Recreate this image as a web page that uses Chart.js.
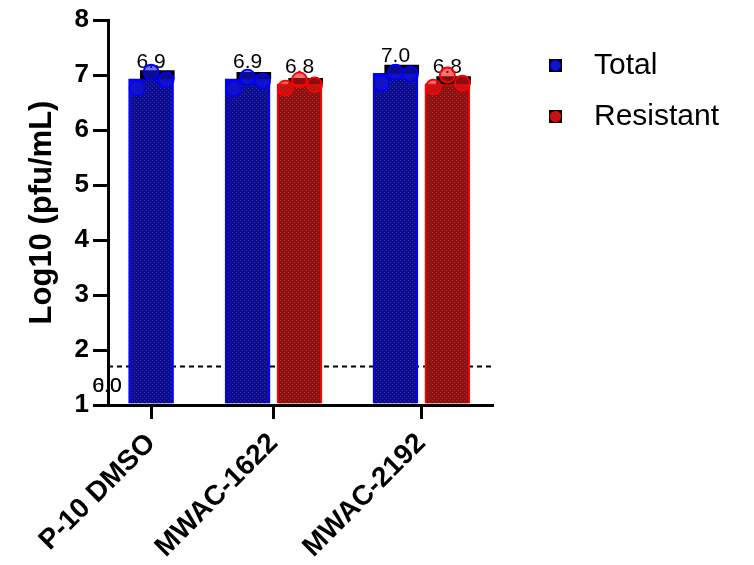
<!DOCTYPE html>
<html><head><meta charset="utf-8">
<script src="https://cdn.jsdelivr.net/npm/chart.js@4.4.1/dist/chart.umd.min.js"></script>
<style>html,body{margin:0;padding:0;background:#fff;}canvas{display:block}</style>
</head><body>
<canvas id="c" width="754" height="565"></canvas>
<script>
// ---- data ----
const categories = ['P-10 DMSO', 'MWAC-1622', 'MWAC-2192'];
const seriesNames = ['Total', 'Resistant'];
const totalMean = [6.93, 6.93, 7.03];
const resistantMean = [null, 6.84, 6.84];
const totalSD = [0.15, 0.12, 0.15];
const resistantSD = [null, 0.10, 0.13];
const totalReps = [[6.76, 7.05, 6.91], [6.75, 6.96, 6.89], [6.85, 7.05, 7.02]];
const resistantReps = [null, [6.76, 6.91, 6.82], [6.78, 7.00, 6.85]];
const detectionLimit = 1.7;
const yTickValues = [1, 2, 3, 4, 5, 6, 7, 8];
const strayLabels = ['6.0', '0.0'];

// ---- layout (axis units) ----
const groupCenter = [0.83, 3.19, 6.04];
const jitter = [-0.27, 0, 0.29];
const errShift = 0.12;
function slotX(ci, si) {
  const hasPair = resistantMean[ci] !== null;
  if (!hasPair) return groupCenter[ci];
  return groupCenter[ci] + (si === 0 ? -0.5 : 0.5);
}

const FONT = "'Liberation Sans', Arial, sans-serif";
function hatch(base, dot) {
  const c = document.createElement('canvas'); c.width = 4; c.height = 4;
  const g = c.getContext('2d');
  g.fillStyle = base; g.fillRect(0, 0, 4, 4);
  g.fillStyle = dot; g.fillRect(0, 0, 1, 1); g.fillRect(2, 2, 1, 1);
  return g.createPattern(c, 'repeat');
}
const blueFill = hatch('#0e0e8c', '#2a2ab8');
const redFill = hatch('#8a1212', '#b02a2a');
const colors = {
  Total: {fill: blueFill, edge: '#0000ff', pt: 'rgba(20,20,230,0.6)', legend: '#1515c0'},
  Resistant: {fill: redFill, edge: '#ff0000', pt: 'rgba(230,20,20,0.6)', legend: '#c01515'}
};
const means = [totalMean, resistantMean];
const sds = [totalSD, resistantSD];
const reps = [totalReps, resistantReps];

const datasets = [];
seriesNames.forEach((name, si) => {
  const barData = [], errData = [], ptData = [];
  categories.forEach((c, ci) => {
    const m = means[si][ci];
    if (m === null) return;
    const x = slotX(ci, si);
    barData.push({x: x, y: m});
    errData.push({x: x + errShift, y: [m, m + sds[si][ci]]});
    reps[si][ci].forEach((v, k) => ptData.push({x: x + jitter[k], y: v}));
  });
  datasets.push({type: 'scatter', label: name + ' points', data: ptData, order: 0,
    pointRadius: 7.5, pointHoverRadius: 7.5, pointBorderWidth: 1.8,
    borderColor: colors[name].edge, backgroundColor: colors[name].pt});
  datasets.push({type: 'bar', label: name + ' sd', data: errData, order: 1, grouped: false,
    barThickness: 34, backgroundColor: '#000', borderWidth: 0});
  datasets.push({type: 'bar', label: name, data: barData, order: 2, grouped: false,
    barThickness: 45, base: 1, backgroundColor: colors[name].fill, borderColor: colors[name].edge,
    borderWidth: 2, borderSkipped: 'bottom'});
});

const extras = {
  id: 'extras',
  beforeDatasetsDraw(chart) {
    const {ctx, chartArea: a, scales: {x, y}} = chart;
    ctx.save();
    ctx.strokeStyle = '#000'; ctx.lineWidth = 2; ctx.setLineDash([5, 4]);
    const yy = y.getPixelForValue(detectionLimit);
    ctx.beginPath(); ctx.moveTo(a.left, yy); ctx.lineTo(a.right, yy); ctx.stroke();
    ctx.setLineDash([]);
    ctx.fillStyle = '#000'; ctx.font = '21px ' + FONT; ctx.textAlign = 'center'; ctx.textBaseline = 'alphabetic';
    seriesNames.forEach((name, si) => {
      categories.forEach((c, ci) => {
        const m = means[si][ci];
        if (m === null) return;
        ctx.fillText(m.toFixed(1), x.getPixelForValue(slotX(ci, si)), y.getPixelForValue(m) - 11);
      });
    });
    strayLabels.forEach((t) => ctx.fillText(t, a.left - 1, y.getPixelForValue(1) - 13));
    ctx.restore();
  },
  afterDraw(chart) {
    const {ctx} = chart;
    ctx.save();
    seriesNames.forEach((name, si) => {
      const cy = 65.5 + si * 51;
      ctx.fillStyle = '#000'; ctx.fillRect(549, cy - 6.5, 13, 13);
      ctx.beginPath(); ctx.arc(555.5, cy, 5, 0, Math.PI * 2);
      ctx.fillStyle = colors[name].legend; ctx.fill();
      ctx.lineWidth = 1.2; ctx.strokeStyle = colors[name].edge; ctx.stroke();
      ctx.fillStyle = '#000'; ctx.font = '30px ' + FONT; ctx.textAlign = 'left'; ctx.textBaseline = 'middle';
      ctx.fillText(name, 594, cy);
    });
    ctx.restore();
  }
};

new Chart(document.getElementById('c'), {
  type: 'bar',
  data: {datasets: datasets},
  options: {
    responsive: false, animation: false, devicePixelRatio: 1,
    layout: {padding: {top: 20, right: 262, left: 0, bottom: 0}},
    plugins: {legend: {display: false}, tooltip: {enabled: false}},
    scales: {
      x: {
        type: 'linear', min: 0, max: 7.4, offset: false,
        afterBuildTicks: (s) => { s.ticks = groupCenter.map(v => ({value: v})); },
        afterFit: (s) => { s.height = 160; },
        ticks: {autoSkip: false, maxRotation: 45, minRotation: 45, color: '#000', padding: 8,
          font: {family: FONT, size: 28, weight: 'bold'},
          callback: (v, i) => categories[i]},
        grid: {offset: false, drawOnChartArea: false, drawTicks: true, tickLength: 14, lineWidth: 3, color: '#000'},
        border: {display: true, width: 3, color: '#000'}
      },
      y: {
        type: 'linear', min: 1, max: 8,
        afterBuildTicks: (s) => { s.ticks = yTickValues.map(v => ({value: v})); },
        afterFit: (s) => { s.width = 108; },
        ticks: {color: '#000', padding: 4, font: {family: FONT, size: 26, weight: 'bold'}},
        grid: {drawOnChartArea: false, drawTicks: true, tickLength: 15, lineWidth: 3, color: '#000'},
        border: {display: true, width: 3, color: '#000'},
        title: {display: true, text: 'Log10 (pfu/mL)', color: '#000', padding: {top: 24, bottom: 0},
          font: {family: FONT, size: 31, weight: 'bold'}}
      }
    }
  },
  plugins: [extras]
});
</script>
</body></html>
